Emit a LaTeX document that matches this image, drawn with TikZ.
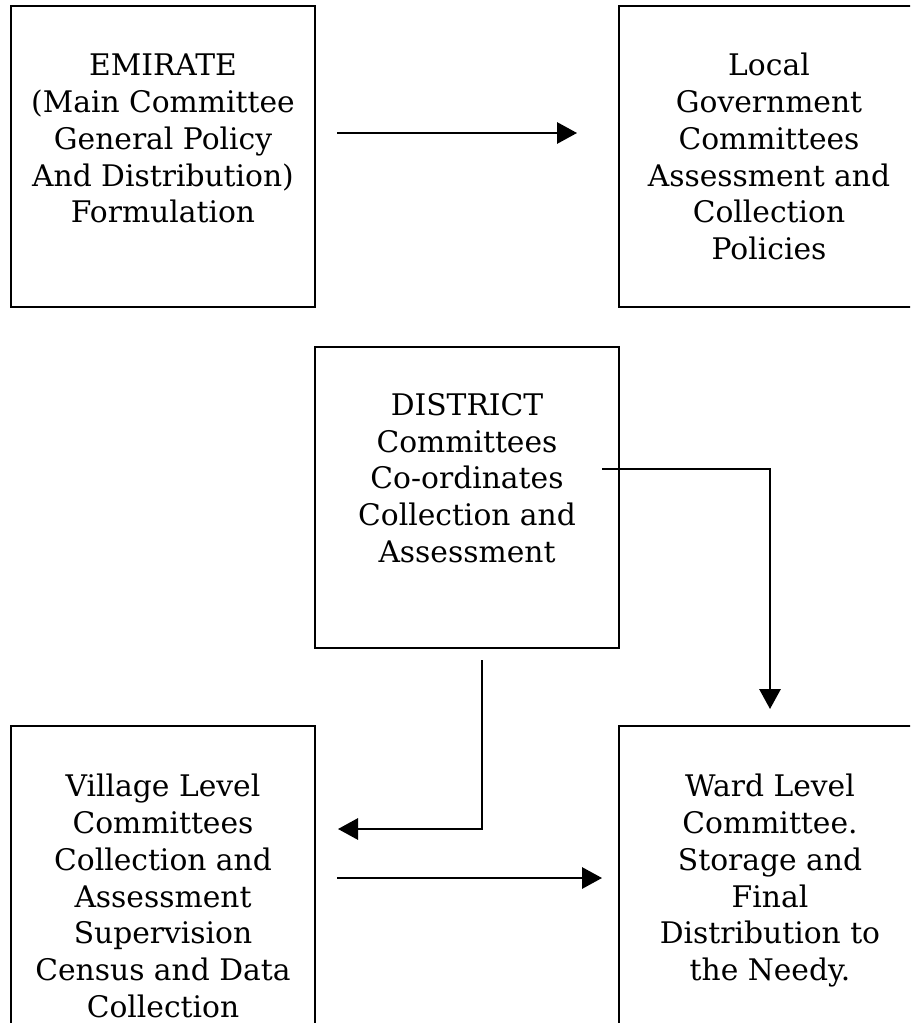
\documentclass[tikz,border=0pt]{standalone}
\usepackage{fontspec}
\setmainfont{DejaVu Serif}
\usetikzlibrary{arrows.meta}
\tikzset{
  box/.style={draw, line width=1.9pt, rectangle, inner sep=0pt},
  txt/.style={anchor=north, align=center, inner sep=0pt, font=\fontsize{22.3pt}{27.56pt}\selectfont},
  conn/.style={line width=1.5pt, -{Triangle[length=15pt,width=16pt]}}
}
\begin{document}
\begin{tikzpicture}[x=0.75pt,y=-0.75pt]
\useasboundingbox (0,0) rectangle (910,1023);
\clip (0,0) rectangle (910,1023);
% boxes
\node[box, minimum width=228pt, minimum height=225.75pt] (emirate) at (163,156.5) {};
\node[box, minimum width=225.75pt, minimum height=225.75pt] (local) at (769.5,156.5) {};
\node[box, minimum width=228pt, minimum height=225.75pt] (district) at (467,497.5) {};
\node[box, minimum width=228pt, minimum height=250.5pt] (village) at (163,893) {};
\node[box, minimum width=225.75pt, minimum height=250.5pt] (ward) at (769.5,893) {};
% texts
\node[txt] (t1) at (163,54) {EMIRATE\\(Main Committee\\General Policy\\And Distribution)\\Formulation};
\node[txt] (t2) at (769,53) {Local\\Government\\Committees\\Assessment and\\Collection\\Policies};
\node[txt] (t3) at (467,393) {DISTRICT\\Committees\\Co-ordinates\\Collection and\\Assessment};
\node[txt] (t4) at (163,774) {Village Level\\Committees\\Collection and\\Assessment\\Supervision\\Census and Data\\Collection};
\node[txt] (t5) at (770,774) {Ward Level\\Committee.\\Storage and\\Final\\Distribution to\\the Needy.};
% connector ends
\coordinate (a1s) at (337,133);
\coordinate (a1e) at (577,133);
\coordinate (a2s) at (602,469);
\coordinate (a2e) at (770,709);
\coordinate (a3s) at (482,660);
\coordinate (a3e) at (338,829);
\coordinate (a4s) at (337,878);
\coordinate (a4e) at (602,878);
% connectors
\draw[conn] (a1s) -- (a1e);
\draw[conn] (a2s) -| (a2e);
\draw[conn] (a3s) |- (a3e);
\draw[conn] (a4s) -- (a4e);
\end{tikzpicture}
\end{document}
